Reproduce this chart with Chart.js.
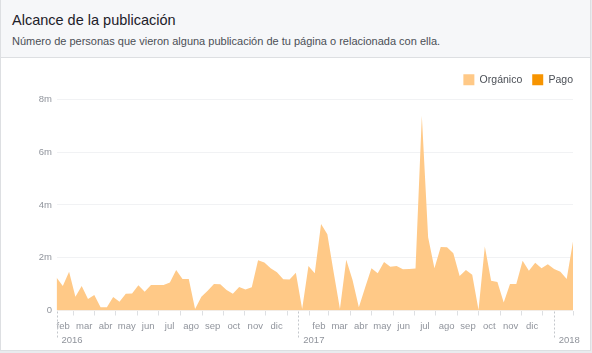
<!DOCTYPE html>
<html>
<head>
<meta charset="utf-8">
<script src="https://cdn.jsdelivr.net/npm/chart.js@4.4.1/dist/chart.umd.min.js"></script>
<style>
  body { margin: 0; background: #e9ebee; font-family: Helvetica, Arial, "Liberation Sans", sans-serif; }
  #card { position: absolute; left: 0; top: -1px; width: 589px; height: 350px; background: #fff; border: 1px solid #dddfe2; }
  #head { position: absolute; left: 0; top: 0; right: 0; height: 57px; background: #f6f7f9; border-bottom: 1px solid #dddfe2; }
  #head h1 { position: absolute; left: 11px; top: 10px; margin: 0; font-size: 14.5px; font-weight: normal; line-height: 20px; color: #1d2129; white-space: nowrap; }
  #head p { position: absolute; left: 11px; top: 34px; margin: 0; font-size: 11px; line-height: 14px; color: #4b4f56; white-space: nowrap; }
  #myChart { position: absolute; left: 0; top: 0; }
</style>
</head>
<body>
<div id="card">
  <div id="head">
    <h1>Alcance de la publicación</h1>
    <p>Número de personas que vieron alguna publicación de tu página o relacionada con ella.</p>
  </div>
</div>
<canvas id="myChart" width="592" height="353"></canvas>
<script>
// one point every 9 days, starting 6 feb 2016 (values in millions)
const firstDate = [2016, 1, 6];
const stepDays = 9;

const organico = [
  1.25, 0.93, 1.47, 0.52, 0.93, 0.44, 0.59, 0.12, 0.12, 0.51,
  0.33, 0.63, 0.64, 0.96, 0.71, 0.97, 0.97, 0.97, 1.06, 1.53,
  1.19, 1.19, 0.06, 0.52, 0.75, 1.00, 0.99, 0.78, 0.63, 0.89,
  0.80, 0.88, 1.90, 1.82, 1.60, 1.45, 1.18, 1.17, 1.43, 0.06,
  1.69, 1.41, 3.28, 2.89, 1.45, 0.06, 1.92, 1.16, 0.12, 0.87,
  1.60, 1.41, 1.84, 1.66, 1.69, 1.56, 1.57, 1.59, 7.38, 2.77,
  1.60, 2.41, 2.40, 2.17, 1.31, 1.53, 1.35, 0.02, 2.42, 1.13,
  1.08, 0.30, 1.00, 1.00, 1.88, 1.51, 1.81, 1.60, 1.75, 1.57,
  1.47, 1.19, 2.61
];

const pago = [
  0, 0, 0, 0, 0, 0, 0, 0, 0, 0,
  0, 0, 0, 0, 0, 0, 0, 0, 0, 0,
  0, 0, 0, 0, 0, 0, 0, 0, 0, 0,
  0, 0, 0, 0, 0, 0, 0, 0, 0, 0,
  0, 0, 0, 0, 0, 0, 0, 0, 0, 0,
  0, 0, 0, 0, 0, 0, 0, 0, 0, 0,
  0, 0, 0, 0, 0, 0, 0, 0, 0, 0,
  0, 0, 0, 0, 0, 0, 0, 0, 0, 0,
  0, 0, 0
];

const monthNames = ['ene', 'feb', 'mar', 'abr', 'may', 'jun', 'jul', 'ago', 'sep', 'oct', 'nov', 'dic'];
const years = [2016, 2017, 2018];
const yTickValues = [0, 2, 4, 6, 8];
const yTickLabels = ['0', '2m', '4m', '6m', '8m'];

const gray = '#90949c';
Chart.defaults.font.family = 'Helvetica, Arial, "Liberation Sans", sans-serif';

// days counted from 1 jan 2016
function dayOf(y, m, d) {
  return Math.round((Date.UTC(y, m, d) - Date.UTC(2016, 0, 1)) / 86400000);
}

const start = dayOf(firstDate[0], firstDate[1], firstDate[2]);
const xMin = start;
const xMax = start + (organico.length - 1) * stepDays;

function toPoints(values) {
  return values.map((v, i) => ({ x: start + i * stepDays, y: v }));
}

function monthTicks() {
  const t = [];
  years.forEach(y => {
    for (let m = 0; m < 12; m++) {
      const a = dayOf(y, m, 1);
      const mid = (a + dayOf(y, m + 1, 1)) / 2;
      if (a >= xMin && mid <= xMax) t.push({ value: a, mark: true });
      if (m > 0 && mid >= xMin && mid <= xMax) t.push({ value: mid, name: monthNames[m] });
    }
  });
  t.push({ value: xMax, mark: true });
  return t.sort((a, b) => a.value - b.value);
}

function yearTicks() {
  return years.map(y => ({
    value: Math.max(xMin, (dayOf(y, 0, 1) + dayOf(y, 1, 1)) / 2),
    name: String(y)
  })).filter(t => t.value <= xMax);
}

const yearLines = {
  id: 'yearLines',
  afterDraw(chart) {
    const s = chart.scales.years;
    const ctx = chart.ctx;
    ctx.save();
    ctx.strokeStyle = '#c4c7cc';
    ctx.lineWidth = 1;
    ctx.setLineDash([2, 2]);
    s.ticks.forEach(t => {
      const x = Math.round(s.getPixelForValue(t.value)) + 0.5;
      ctx.beginPath();
      ctx.moveTo(x, chart.chartArea.bottom + 1);
      ctx.lineTo(x, s.top + 5);
      ctx.stroke();
    });
    ctx.restore();
  }
};

const ctx = document.getElementById('myChart').getContext('2d');
const myChart = new Chart(ctx, {
  type: 'line',
  data: {
    datasets: [{
      label: 'Orgánico',
      data: toPoints(organico),
      fill: 'origin',
      backgroundColor: 'rgb(255, 201, 135)',
      borderColor: 'rgba(0, 0, 0, 0)',
      borderWidth: 0,
      pointRadius: 0,
      tension: 0
    }, {
      label: 'Pago',
      data: toPoints(pago),
      fill: '-1',
      backgroundColor: 'rgb(247, 148, 0)',
      borderColor: 'rgba(0, 0, 0, 0)',
      borderWidth: 0,
      pointRadius: 0,
      tension: 0
    }]
  },
  options: {
    responsive: false,
    animation: false,
    layout: { padding: { top: 64.3, right: 9, bottom: 6.6, left: 0 } },
    plugins: {
      tooltip: { enabled: false },
      legend: {
        position: 'top',
        align: 'end',
        labels: {
          boxWidth: 11,
          boxHeight: 11,
          padding: 10,
          color: '#4b4f56',
          font: { size: 10.5 }
        }
      }
    },
    scales: {
      x: {
        type: 'linear',
        position: 'bottom',
        weight: 0,
        min: xMin,
        max: xMax,
        afterBuildTicks: axis => { axis.ticks = monthTicks(); },
        afterFit: axis => { axis.height = 21.9; },
        grid: {
          drawOnChartArea: false,
          drawTicks: true,
          tickLength: 5,
          tickColor: c => (c.tick && c.tick.mark) ? '#dddfe2' : 'rgba(0, 0, 0, 0)'
        },
        border: { display: false },
        ticks: {
          autoSkip: false,
          maxRotation: 0,
          minRotation: 0,
          padding: 5.5,
          color: gray,
          font: { size: 9.5 },
          callback: (v, i, ticks) => ticks[i].name || ''
        }
      },
      years: {
        type: 'linear',
        position: 'bottom',
        weight: 1,
        min: xMin,
        max: xMax,
        afterBuildTicks: axis => { axis.ticks = yearTicks(); },
        afterFit: axis => { axis.height = 14; },
        grid: { display: false, drawTicks: false },
        border: { display: false },
        ticks: {
          autoSkip: false,
          maxRotation: 0,
          minRotation: 0,
          align: 'start',
          labelOffset: 5,
          padding: 2.6,
          color: gray,
          font: { size: 9.5 },
          callback: (v, i, ticks) => ticks[i].name
        }
      },
      y: {
        stacked: true,
        position: 'left',
        min: 0,
        max: 8,
        afterFit: axis => { axis.width = 56.5; },
        afterBuildTicks: axis => { axis.ticks = yTickValues.map(v => ({ value: v })); },
        grid: { color: '#f1f2f4', drawTicks: false },
        border: { display: false },
        ticks: {
          padding: 4.5,
          color: gray,
          font: { size: 9.5 },
          callback: (v, i) => yTickLabels[i]
        }
      },
      gap: {
        type: 'linear',
        position: 'top',
        afterFit: axis => { axis.height = 4; },
        grid: { display: false, drawTicks: false },
        border: { display: false },
        ticks: { display: false }
      },
      side: {
        type: 'linear',
        position: 'right',
        afterFit: axis => { axis.width = 10; },
        grid: { display: false, drawTicks: false },
        border: { display: false },
        ticks: { display: false }
      }
    }
  },
  plugins: [yearLines]
});
</script>
</body>
</html>
